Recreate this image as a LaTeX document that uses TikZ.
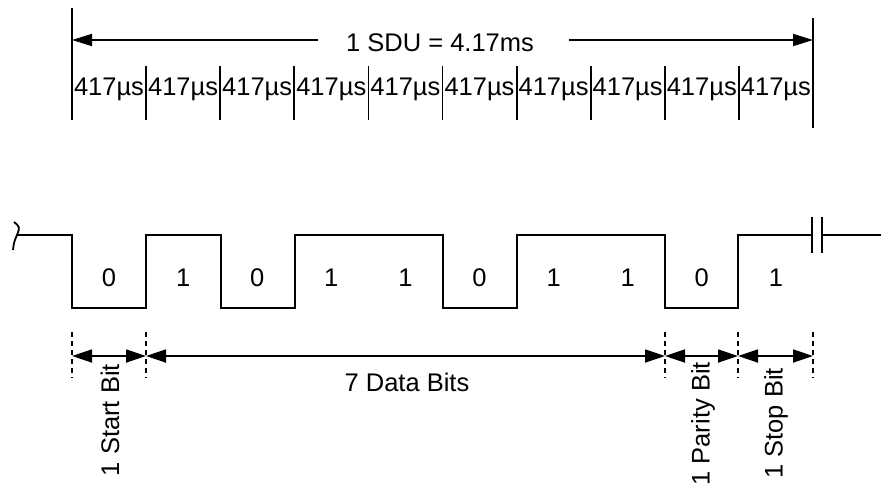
\documentclass[tikz,border=0pt]{standalone}
\usepackage{fontspec}
\setmainfont{Liberation Sans}
\usetikzlibrary{arrows.meta}

\tikzset{
  wave/.style={line width=1.8pt},
  span/.style={line width=1.8pt,{Triangle[length=20pt,width=13pt]}-{Triangle[length=20pt,width=13pt]}},
  bitmark/.style={line width=1.5pt,dash pattern=on 5pt off 4pt},
  txt/.style={font=\fontsize{25.5}{30}\selectfont,inner sep=0pt},
}

\begin{document}
\begin{tikzpicture}[x=1pt,y=-1pt]
  \useasboundingbox (0,0) rectangle (881,491);
  % one SDU with its ten bit cells
  \draw[wave] (72,8)--(72,120);
  \draw[wave] (813,18)--(813,128);
  \foreach \i [evaluate=\i as \x using 72+74.1*\i] in {1,...,9}
    {\draw[wave] (\x,66)--(\x,120);}
  \foreach \i [evaluate=\i as \x using 109+74.1*\i] in {0,...,9}
    {\node[txt] (cell\i) at (\x,89) {417µs};}
  \coordinate (t0) at (72,40);
  \coordinate (t10) at (813,40);
  \node[txt] (sdu) at (440,43) {1 SDU = 4.17ms};
  \draw[wave,-{Triangle[length=20pt,width=12pt]}] ([xshift=-28pt]sdu.west|-t0) -- (t0);
  \draw[wave,-{Triangle[length=20pt,width=12pt]}] ([xshift=35pt]sdu.east|-t10) -- (t10);
  % signal
  \draw[wave] (17,235) -| (72,308) -| (146,235) -| (221,308) -| (295,235)
    -| (443,308) -| (517,235) -| (665,308) -| (738,235) -- (812,235);
  \draw[wave] (14,222) .. controls (20,227) .. (17,235) .. controls (14,242) .. (13,250);
  \draw[wave] (812,217)--(812,253);
  \draw[wave] (822,217)--(822,253);
  \draw[wave] (822,235)--(881,235);
  \foreach \b [count=\i from 0, evaluate=\i as \x using 109+74.1*\i] in {0,1,0,1,1,0,1,1,0,1}
    {\node[txt] (bit\i) at (\x,278) {\b};}
  % frame fields
  \foreach \n/\x in {m0/72,m1/146,m8/665,m9/738,m10/813}{
    \coordinate (\n) at (\x,356);
    \draw[bitmark] (\x,332)--(\x,378);
  }
  \draw[span] (m0) -- (m1);
  \draw[span] (m1) -- (m8);
  \draw[span] (m8) -- (m9);
  \draw[span] (m9) -- (m10);
  \node[txt] (data) at (407,382) {7 Data Bits};
  \node[txt,rotate=90,anchor=east] (start) at (110,364) {1 Start Bit};
  \node[txt,rotate=90,anchor=east] (parity) at (703,362) {1 Parity Bit};
  \node[txt,rotate=90,anchor=east] (stop) at (776,368) {1 Stop Bit};
\end{tikzpicture}
\end{document}
